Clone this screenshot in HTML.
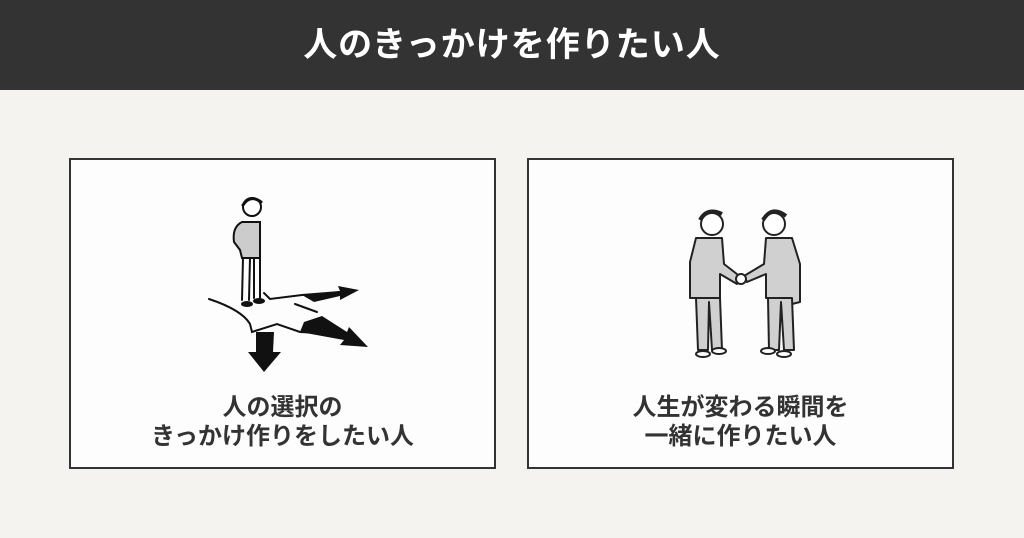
<!DOCTYPE html>
<html><head><meta charset="utf-8"><style>
*{margin:0;padding:0;box-sizing:border-box}
body{width:1024px;height:538px;background:#f4f3ef;position:relative;overflow:hidden;font-family:"Liberation Sans","Noto Sans CJK JP",sans-serif}
.hd{position:absolute;left:0;top:0;width:1024px;height:90px;background:#333;color:#fff;font-size:34px;font-weight:bold;text-align:center;line-height:90px;letter-spacing:1px}
.box{position:absolute;top:158px;width:427px;height:311px;border:2px solid #333;background:#fdfdfd}
.t{position:absolute;left:0;width:100%;top:233px;text-align:center;font-size:24px;font-weight:bold;color:#333;line-height:29px}
svg{position:absolute;left:0;top:0}
</style></head><body>
<div class="hd">人のきっかけを作りたい人</div>
<div class="box" style="left:69px">
<svg width="423" height="230" viewBox="69 158 423 230">
<g stroke="#111" stroke-width="2" fill="none" stroke-linecap="round">
<path d="M207 297 Q240 308 248 322 L250 330 L275 322 L298 330 L338 332"/>
<path d="M262 291 L268 297 L300 293 L338 290"/>
<path d="M293 302 L315 310"/>
<circle cx="250" cy="205" r="9" fill="#fff"/>
<path d="M241 203 Q248 192 259 200" stroke-width="3"/>
<path d="M240 220 Q230 225 232 240 L238 248 L240 256 L258 256 L258 220 Z" fill="#ccc"/>
<path d="M241 256 L240 298 M248 256 L247 298 M252 256 L252 296 M258 256 L258 296"/>
</g>
<g fill="#111">
<ellipse cx="245" cy="302" rx="6" ry="3"/><ellipse cx="257" cy="299" rx="6" ry="3"/>
<path d="M300 293 L338 289 L336 284 L357 288 L338 298 L338 294 L312 300 Z"/>
<path d="M302 320 L320 314 L345 330 L347 325 L366 345 L338 343 L342 338 L298 330 Z"/>
<path d="M254 330 L272 330 L271 350 L279 350 L262 370 L246 350 L254 350 Z"/>
</g>
</svg>
<div class="t">人の選択の<br>きっかけ作りをしたい人</div>
</div>
<div class="box" style="left:527px">
<svg width="423" height="230" viewBox="527 158 423 230">
<g stroke="#222" stroke-width="2" fill="#d0d0d0" stroke-linejoin="round">
<circle cx="710" cy="222" r="11" fill="#fff"/>
<path d="M698 218 Q705 205 720 212" fill="none" stroke-width="4"/>
<path d="M694 236 L720 236 L722 262 L740 276 L735 282 L718 272 L718 296 L688 296 L688 260 Z"/>
<path d="M694 296 L696 348 L706 348 L707 300 L710 348 L720 348 L718 296 Z"/>
<ellipse cx="701" cy="352" rx="7" ry="3" fill="#fff"/><ellipse cx="717" cy="349" rx="7" ry="3" fill="#fff"/>
<circle cx="772" cy="222" r="11" fill="#fff"/>
<path d="M761 218 Q770 203 784 214" fill="none" stroke-width="4"/>
<path d="M764 236 L790 236 L798 262 L798 300 L790 302 L788 296 L764 296 L764 272 L745 280 L742 274 L762 262 Z"/>
<path d="M766 296 L767 348 L777 348 L779 300 L782 348 L792 348 L790 296 Z"/>
<ellipse cx="766" cy="349" rx="7" ry="3" fill="#fff"/><ellipse cx="782" cy="352" rx="7" ry="3" fill="#fff"/>
<circle cx="739" cy="277" r="5" fill="#fff"/>
</g>
</svg>
<div class="t">人生が変わる瞬間を<br>一緒に作りたい人</div>
</div>
</body></html>
